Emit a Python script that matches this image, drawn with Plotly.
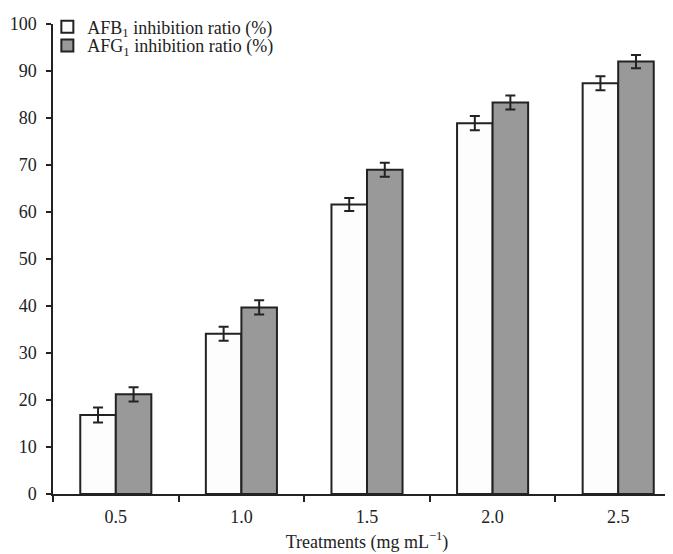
import plotly.graph_objects as go

categories = ["0.5", "1.0", "1.5", "2.0", "2.5"]
afb1 = [16.8, 34.1, 61.6, 78.9, 87.4]
afb1_err = [1.6, 1.5, 1.4, 1.5, 1.5]
afg1 = [21.2, 39.7, 69.0, 83.3, 92.0]
afg1_err = [1.5, 1.5, 1.5, 1.5, 1.4]
yticks = [0, 10, 20, 30, 40, 50, 60, 70, 80, 90, 100]

ink = "#222222"
font = dict(family="Liberation Serif", size=18, color=ink)

fig = go.Figure()
fig.add_trace(go.Bar(
    x=categories, y=afb1, name="AFB<sub>1</sub> inhibition ratio (%)",
    marker=dict(color="#fdfdfd", line=dict(color=ink, width=2)),
    error_y=dict(type="data", array=afb1_err, color=ink, thickness=2, width=5),
    legend="legend",
))
fig.add_trace(go.Bar(
    x=categories, y=afg1, name="AFG<sub>1</sub> inhibition ratio (%)",
    marker=dict(color="#999999", line=dict(color=ink, width=2)),
    error_y=dict(type="data", array=afg1_err, color=ink, thickness=2, width=5),
    legend="legend2",
))

leg_common = dict(x=-0.009, xanchor="left", yanchor="middle",
                  bgcolor="rgba(0,0,0,0)", font=font, itemsizing="constant")

fig.update_layout(
    width=673, height=554,
    margin=dict(l=45, r=0, t=10, b=68),
    paper_bgcolor="white", plot_bgcolor="white",
    font=font,
    barmode="group", bargap=0.434, bargroupgap=0,
    showlegend=True,
    legend=dict(y=0.9937, **leg_common),
    legend2=dict(y=0.9538, **leg_common),
    xaxis=dict(type="category", range=[-0.5, 4.5],
               showline=True, linecolor=ink, linewidth=1.5,
               ticks="outside", tickson="boundaries", ticklen=6, tickcolor=ink, tickwidth=1.5,
               ticklabelstandoff=6,
               showgrid=False, zeroline=False,
               title=dict(text="Treatments (mg mL<sup>\u22121</sup>)", standoff=9,
                          font=font),
               tickfont=font),
    yaxis=dict(range=[0, 100], tickvals=yticks,
               showline=True, linecolor=ink, linewidth=1.5,
               ticks="outside", ticklen=5, tickcolor=ink, tickwidth=1.5,
               ticklabelstandoff=6, tickfont=font,
               showgrid=False, zeroline=False),
)

fig.write_html("out.html")
